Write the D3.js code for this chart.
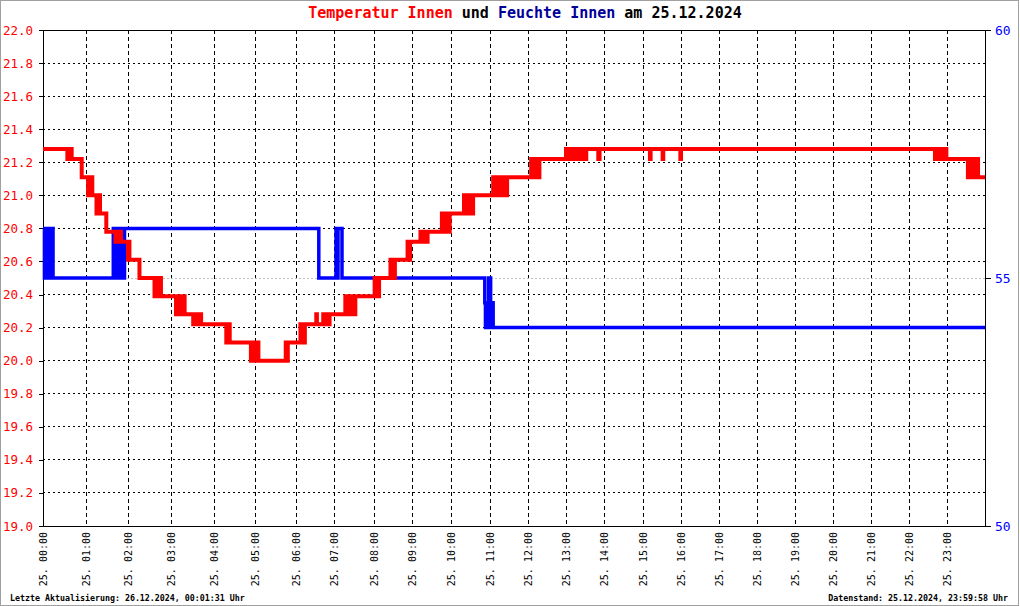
<!DOCTYPE html>
<html>
<head>
<meta charset="utf-8">
<script src="https://cdn.jsdelivr.net/npm/d3@7"></script>
<style>
  body { margin: 0; background: #fff; }
  svg { display: block; font-family: "DejaVu Sans Mono", monospace; }
</style>
</head>
<body>
<svg id="chart" width="1020" height="606"></svg>
<script>
// samples logged per hour - the x axis runs on sample index, so hours are not equally wide
const samplesPerHour = [43, 42, 43, 43, 41, 41, 38, 40, 38, 39, 39, 38, 38, 38, 39, 38, 38, 38, 38, 38, 38, 38, 38, 38];

const hourLabels = ["25. 00:00", "25. 01:00", "25. 02:00", "25. 03:00", "25. 04:00", "25. 05:00",
  "25. 06:00", "25. 07:00", "25. 08:00", "25. 09:00", "25. 10:00", "25. 11:00",
  "25. 12:00", "25. 13:00", "25. 14:00", "25. 15:00", "25. 16:00", "25. 17:00",
  "25. 18:00", "25. 19:00", "25. 20:00", "25. 21:00", "25. 22:00", "25. 23:00"];

const tempTicks = [19.0, 19.2, 19.4, 19.6, 19.8, 20.0, 20.2, 20.4, 20.6, 20.8, 21.0, 21.2, 21.4, 21.6, 21.8, 22.0];
const humTicks = [50, 55, 60];
const humRefLine = 55;

// temperature innen (°C), value holds from its time until the next entry
const tempSteps = [
  ["00:00", 21.28],
  ["00:34", 21.22], ["00:35", 21.28], ["00:37", 21.22], ["00:38", 21.28], ["00:40", 21.22],
  ["00:54", 21.11],
  ["01:03", 21.0], ["01:05", 21.11], ["01:06", 21.0], ["01:08", 21.11], ["01:09", 21.0],
  ["01:15", 20.89], ["01:17", 21.0], ["01:20", 20.89],
  ["01:29", 20.78],
  ["01:42", 20.72], ["01:44", 20.78], ["01:46", 20.72], ["01:48", 20.78], ["01:50", 20.72],
  ["02:00", 20.61], ["02:01", 20.72], ["02:02", 20.61],
  ["02:16", 20.5],
  ["02:37", 20.39], ["02:39", 20.5], ["02:41", 20.39], ["02:44", 20.5], ["02:46", 20.39],
  ["03:07", 20.28], ["03:09", 20.39], ["03:11", 20.28], ["03:14", 20.39], ["03:16", 20.28], ["03:17", 20.39], ["03:19", 20.28],
  ["03:31", 20.22], ["03:33", 20.28], ["03:36", 20.22], ["03:40", 20.28], ["03:42", 20.22],
  ["04:18", 20.11], ["04:20", 20.22], ["04:23", 20.11],
  ["04:54", 20.0], ["04:57", 20.11], ["04:59", 20.0], ["05:02", 20.11], ["05:05", 20.0],
  ["05:45", 20.11], ["05:46", 20.0], ["05:48", 20.11],
  ["06:07", 20.22], ["06:09", 20.11], ["06:11", 20.22], ["06:12", 20.11], ["06:14", 20.22],
  ["06:32", 20.28], ["06:33", 20.22], ["06:43", 20.28], ["06:45", 20.22], ["06:47", 20.28],
  ["06:49", 20.22], ["06:51", 20.28], ["06:52", 20.22], ["06:53", 20.28],
  ["07:17", 20.39], ["07:19", 20.28], ["07:22", 20.39], ["07:25", 20.28], ["07:27", 20.39], ["07:29", 20.28], ["07:32", 20.39],
  ["08:01", 20.5], ["08:03", 20.39], ["08:05", 20.5], ["08:06", 20.39], ["08:08", 20.5],
  ["08:26", 20.61], ["08:28", 20.5], ["08:30", 20.61], ["08:31", 20.5], ["08:33", 20.61],
  ["08:53", 20.72], ["08:55", 20.61], ["08:57", 20.72],
  ["09:13", 20.78], ["09:15", 20.72], ["09:18", 20.78], ["09:20", 20.72], ["09:24", 20.78],
  ["09:46", 20.89], ["09:48", 20.78], ["09:51", 20.89], ["09:54", 20.78], ["09:56", 20.89], ["09:57", 20.78], ["09:58", 20.89],
  ["10:20", 21.0], ["10:22", 20.89], ["10:25", 21.0], ["10:28", 20.89], ["10:30", 21.0], ["10:32", 20.89], ["10:34", 21.0],
  ["11:05", 21.11], ["11:07", 21.0], ["11:09", 21.11], ["11:12", 21.0], ["11:14", 21.11], ["11:17", 21.0],
  ["11:19", 21.11], ["11:22", 21.0], ["11:24", 21.11], ["11:25", 21.0], ["11:27", 21.11],
  ["12:05", 21.22], ["12:07", 21.11], ["12:09", 21.22], ["12:12", 21.11], ["12:14", 21.22], ["12:16", 21.11], ["12:18", 21.22],
  ["13:00", 21.28], ["13:02", 21.22], ["13:04", 21.28], ["13:06", 21.22], ["13:08", 21.28], ["13:10", 21.22],
  ["13:11", 21.28], ["13:13", 21.22], ["13:18", 21.28], ["13:20", 21.22], ["13:22", 21.28], ["13:24", 21.22],
  ["13:26", 21.28], ["13:28", 21.22], ["13:30", 21.28], ["13:31", 21.22], ["13:32", 21.28],
  ["13:51", 21.22], ["13:53", 21.28],
  ["15:11", 21.22], ["15:12", 21.28],
  ["15:31", 21.22], ["15:32", 21.28],
  ["15:59", 21.22], ["16:00", 21.28],
  ["22:41", 21.22], ["22:43", 21.28], ["22:45", 21.22], ["22:48", 21.28], ["22:50", 21.22],
  ["22:53", 21.28], ["22:55", 21.22], ["22:57", 21.28], ["22:59", 21.22],
  ["23:33", 21.11], ["23:35", 21.22], ["23:38", 21.11], ["23:41", 21.22], ["23:44", 21.11], ["23:47", 21.22], ["23:49", 21.11],
  ["24:00", 21.11]
];

// feuchte innen (%)
const humSteps = [
  ["00:00", 56], ["00:02", 55], ["00:03", 56], ["00:05", 55], ["00:07", 56], ["00:09", 55], ["00:11", 56], ["00:14", 55],
  ["01:39", 56], ["01:41", 55], ["01:43", 56], ["01:45", 55], ["01:47", 56], ["01:49", 55], ["01:51", 56], ["01:53", 55], ["01:55", 56],
  ["06:36", 55],
  ["07:03", 56], ["07:05", 55], ["07:06", 56], ["07:12", 55],
  ["10:52", 54.5], ["10:53", 54], ["10:54", 54.5], ["10:55", 54], ["10:56", 54.5], ["10:57", 54],
  ["10:58", 55], ["11:01", 54.5], ["11:02", 54], ["11:03", 54.5], ["11:05", 54],
  ["24:00", 54]
];

const svg = d3.select("#chart");
const width = 1020, height = 606;
const plotLeft = 43, plotRight = 985, plotTop = 30, plotBottom = 526;

function toHours(s) {
  const p = s.split(":");
  return +p[0] + +p[1] / 60;
}

// sample index -> pixel, hour -> sample index (piecewise)
const cum = [0];
samplesPerHour.forEach(function (n) { cum.push(cum[cum.length - 1] + n); });
const xIdx = d3.scaleLinear().domain([0, cum[cum.length - 1]]).range([plotLeft, plotRight]);
const x = d3.scaleLinear().domain(d3.range(cum.length)).range(cum.map(xIdx));

const yT = d3.scaleLinear().domain([19, 22]).range([plotBottom, plotTop]);
const yH = d3.scaleLinear().domain([50, 60]).range([plotBottom, plotTop]);

svg.append("rect")
  .attr("x", 0.5).attr("y", 0.5)
  .attr("width", width - 2).attr("height", height - 1)
  .attr("fill", "#fff")
  .attr("stroke", "#a0a0a0");

// grid
const grid = svg.append("g").attr("shape-rendering", "crispEdges");
grid.selectAll(".hgrid")
  .data(tempTicks.slice(1, -1))
  .enter()
  .append("line")
  .attr("x1", plotLeft).attr("x2", plotRight)
  .attr("y1", function (d) { return yT(d); })
  .attr("y2", function (d) { return yT(d); })
  .attr("stroke", "#000")
  .attr("stroke-dasharray", "2,3");

grid.selectAll(".vgrid")
  .data(d3.range(1, hourLabels.length))
  .enter()
  .append("line")
  .attr("x1", function (d) { return x(d); })
  .attr("x2", function (d) { return x(d); })
  .attr("y1", plotTop).attr("y2", plotBottom)
  .attr("stroke", "#000")
  .attr("stroke-dasharray", "4,3");

grid.append("line")
  .attr("x1", plotLeft).attr("x2", plotRight)
  .attr("y1", yH(humRefLine)).attr("y2", yH(humRefLine))
  .attr("stroke", "#c0c0c0")
  .attr("stroke-dasharray", "2,2");

// frame
svg.append("rect")
  .attr("x", plotLeft).attr("y", plotTop)
  .attr("width", plotRight - plotLeft).attr("height", plotBottom - plotTop)
  .attr("fill", "none")
  .attr("stroke", "#000")
  .attr("shape-rendering", "crispEdges");

// axes
const axisL = svg.append("g")
  .attr("transform", "translate(" + plotLeft + ",0)")
  .call(d3.axisLeft(yT).tickValues(tempTicks).tickFormat(d3.format(".1f")).tickSize(4).tickPadding(6));
axisL.select(".domain").remove();
axisL.selectAll("line").attr("shape-rendering", "crispEdges");
axisL.selectAll("text")
  .attr("fill", "#ff0000")
  .style("font-family", "DejaVu Sans Mono")
  .style("font-size", "12.5px");

const axisR = svg.append("g")
  .attr("transform", "translate(" + plotRight + ",0)")
  .call(d3.axisRight(yH).tickValues(humTicks).tickSize(6).tickPadding(4));
axisR.select(".domain").remove();
axisR.selectAll("line").attr("shape-rendering", "crispEdges");
axisR.selectAll("text")
  .attr("fill", "#0000ff")
  .style("font-family", "DejaVu Sans Mono")
  .style("font-size", "13px");

svg.append("g")
  .selectAll("text")
  .data(hourLabels)
  .enter()
  .append("text")
  .attr("transform", function (d, i) { return "translate(" + x(i) + "," + (plotBottom + 6) + ") rotate(-90)"; })
  .attr("text-anchor", "end")
  .attr("dy", "0.35em")
  .attr("font-size", "10px")
  .attr("fill", "#000")
  .text(function (d) { return d; });

// series
const tempLine = d3.line()
  .x(function (d) { return x(toHours(d[0])); })
  .y(function (d) { return yT(d[1]); })
  .curve(d3.curveStepAfter);

const humLine = d3.line()
  .x(function (d) { return x(toHours(d[0])); })
  .y(function (d) { return yH(d[1]); })
  .curve(d3.curveStepAfter);

svg.append("path")
  .datum(humSteps)
  .attr("d", humLine)
  .attr("fill", "none")
  .attr("stroke", "#0000ff")
  .attr("stroke-width", 3.5);

svg.append("path")
  .datum(tempSteps)
  .attr("d", tempLine)
  .attr("fill", "none")
  .attr("stroke", "#ff0000")
  .attr("stroke-width", 4);

// title
const title = svg.append("text")
  .attr("x", 525)
  .attr("y", 18)
  .attr("text-anchor", "middle")
  .attr("font-size", "15px")
  .attr("font-weight", "bold");
title.append("tspan").attr("fill", "#ff0000").text("Temperatur Innen");
title.append("tspan").attr("fill", "#000").text(" und ");
title.append("tspan").attr("fill", "#000099").text("Feuchte Innen");
title.append("tspan").attr("fill", "#000").text(" am 25.12.2024");

// footer
svg.append("text")
  .attr("x", 10).attr("y", 601)
  .attr("font-size", "8.3px")
  .attr("font-weight", "bold")
  .text("Letzte Aktualisierung: 26.12.2024, 00:01:31 Uhr");

svg.append("text")
  .attr("x", 1008).attr("y", 601)
  .attr("text-anchor", "end")
  .attr("font-size", "8.3px")
  .attr("font-weight", "bold")
  .text("Datenstand: 25.12.2024, 23:59:58 Uhr");
</script>
</body>
</html>
